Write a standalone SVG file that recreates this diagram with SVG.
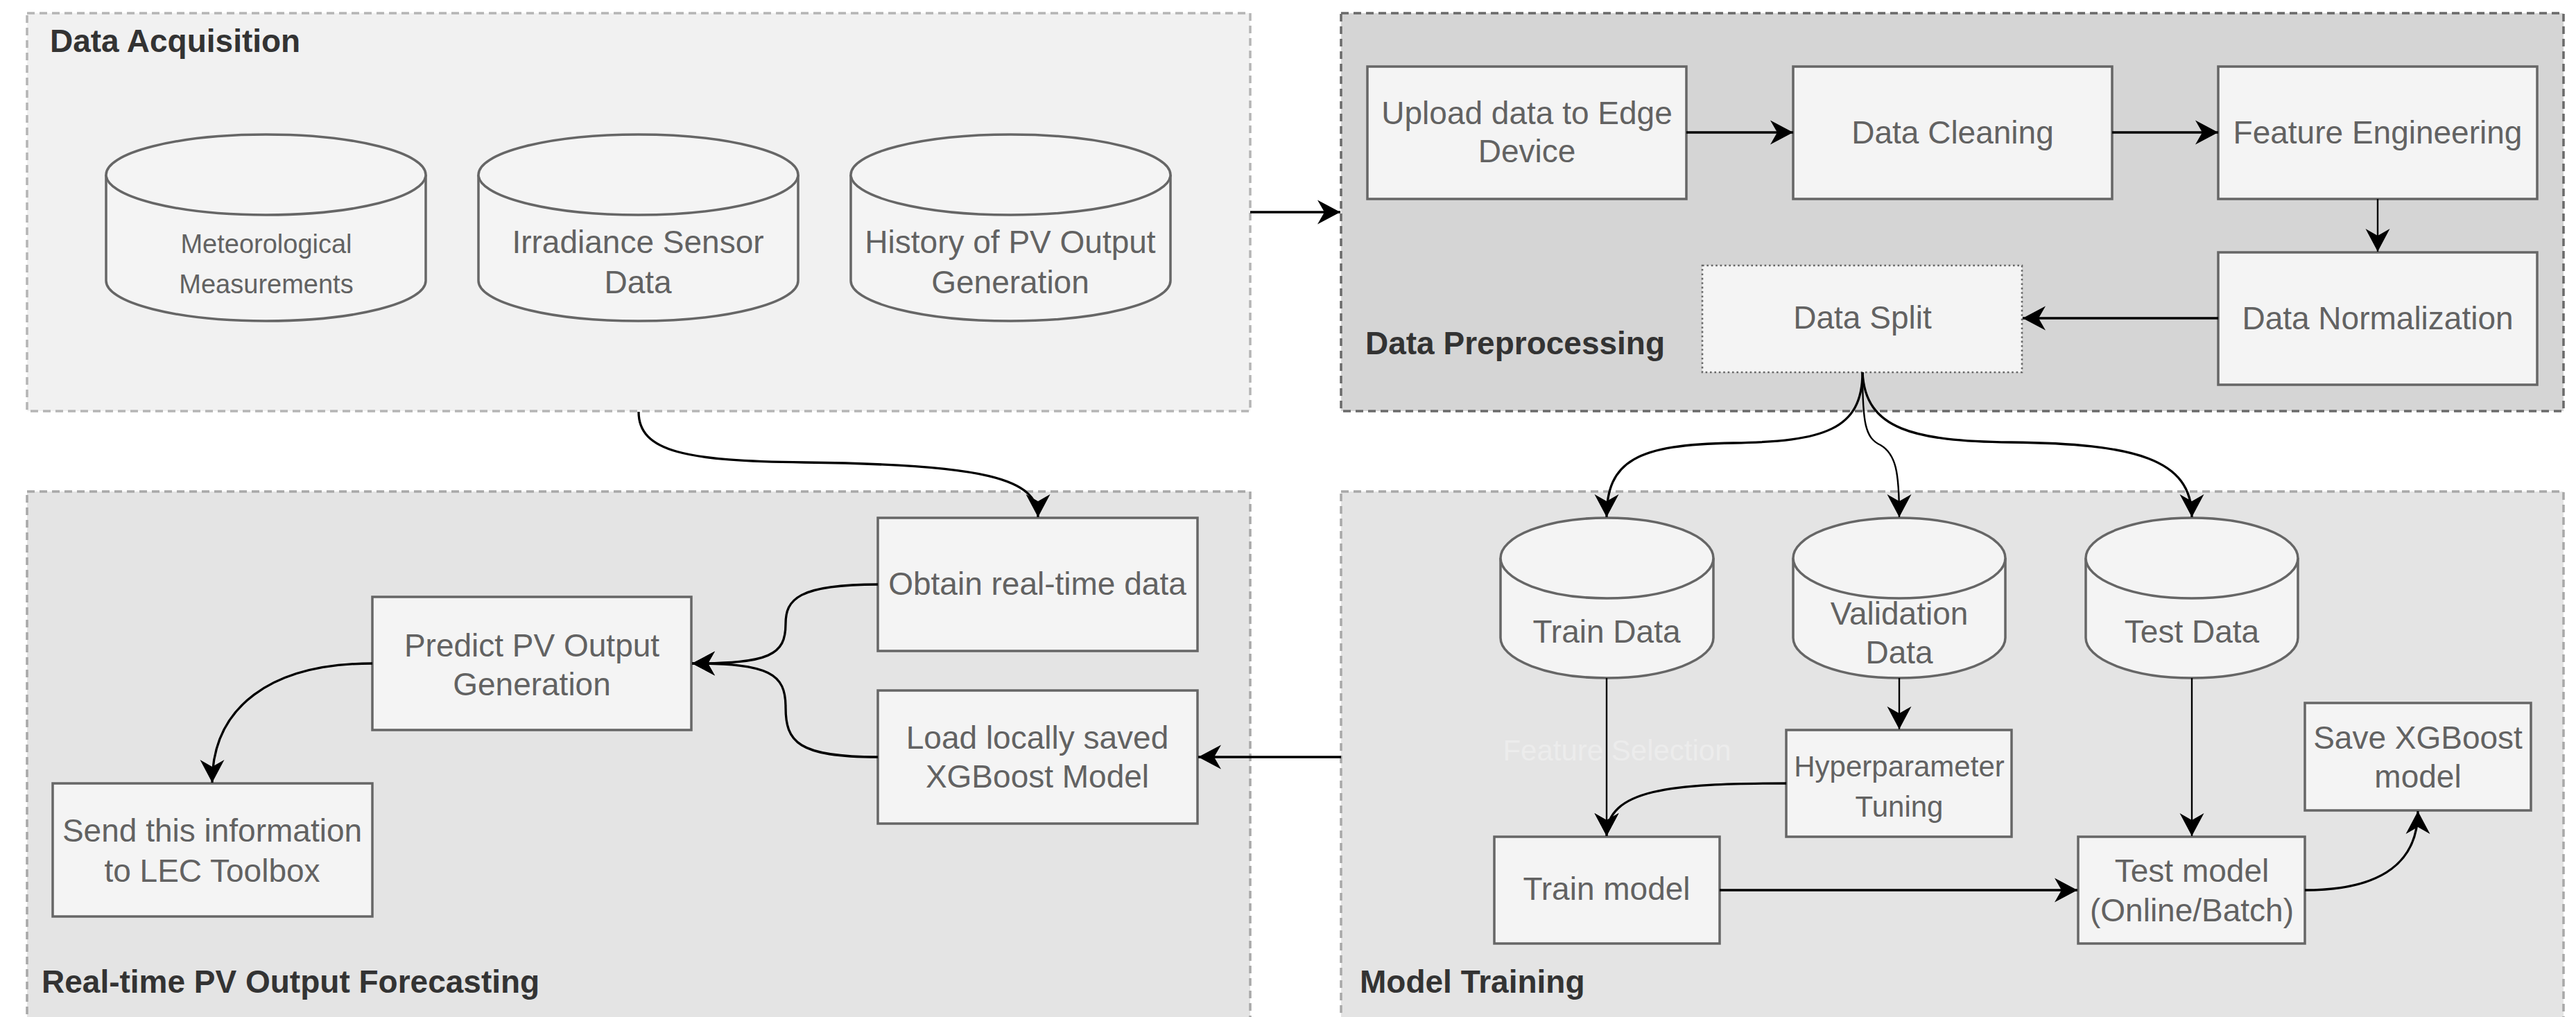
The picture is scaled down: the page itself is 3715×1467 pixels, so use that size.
<svg xmlns="http://www.w3.org/2000/svg" width="3715" height="1467" viewBox="0 0 3715 1467">
<style>
.ct{stroke-width:3.5;stroke-dasharray:11 7}
.box{fill:#f4f4f4;stroke:#666666;stroke-width:3.5}
.t{font-family:"Liberation Sans",Arial,Helvetica,sans-serif;font-size:46px;fill:#626262;text-anchor:middle}
.ts{font-size:38px}
.th{font-size:42px}
.ttl{font-family:"Liberation Sans",Arial,Helvetica,sans-serif;font-size:46px;font-weight:bold;fill:#333333}
.e{fill:none;stroke:#000000;stroke-width:3.3}
.en{fill:none;stroke:#000000;stroke-width:2.4}
</style>
<defs>
<marker id="ar" markerUnits="userSpaceOnUse" markerWidth="36" markerHeight="38" refX="33" refY="18" orient="auto" viewBox="0 0 36 38">
<path d="M0,0.5 L33,18 L0,35.5 L10,18 Z" fill="#000000"/>
</marker>
</defs>
<rect width="3715" height="1467" fill="#ffffff"/>
<g id="containers">
<g id="data-acquisition">
<rect class="ct" x="39" y="19" width="1764" height="574" fill="#f1f1f1" stroke="#b5b5b5"/>
<text class="ttl" x="72" y="75">Data Acquisition</text>
</g>
<g id="data-preprocessing">
<rect class="ct" x="1934" y="19" width="1763" height="574" fill="#d5d5d5" stroke="#6a6a6a"/>
<text class="ttl" x="1969" y="511">Data Preprocessing</text>
</g>
<g id="realtime-forecasting">
<rect class="ct" x="39" y="709" width="1764" height="800" fill="#e4e4e4" stroke="#a8a8a8"/>
<text class="ttl" x="60" y="1432">Real-time PV Output Forecasting</text>
</g>
<g id="model-training">
<rect class="ct" x="1934" y="709" width="1763" height="800" fill="#e4e4e4" stroke="#a8a8a8"/>
<text class="ttl" x="1961" y="1432">Model Training</text>
</g>
</g>
<g id="nodes">
<g id="meteorological">
<path class="box" d="M153,252 A230.5,58 0 0 1 614,252 L614,405 A230.5,58 0 0 1 153,405 Z"/>
<path class="box" fill="none" d="M153,252 A230.5,58 0 0 0 614,252"/>
<text class="t ts" x="384" y="365">Meteorological</text>
<text class="t ts" x="384" y="423">Measurements</text>
</g>
<g id="irradiance">
<path class="box" d="M690,252 A230.5,58 0 0 1 1151,252 L1151,405 A230.5,58 0 0 1 690,405 Z"/>
<path class="box" fill="none" d="M690,252 A230.5,58 0 0 0 1151,252"/>
<text class="t" x="920" y="365">Irradiance Sensor</text>
<text class="t" x="920" y="423">Data</text>
</g>
<g id="history">
<path class="box" d="M1227,252 A230.5,58 0 0 1 1688,252 L1688,405 A230.5,58 0 0 1 1227,405 Z"/>
<path class="box" fill="none" d="M1227,252 A230.5,58 0 0 0 1688,252"/>
<text class="t" x="1457" y="365">History of PV Output</text>
<text class="t" x="1457" y="423">Generation</text>
</g>
<g id="upload">
<rect class="box" x="1972" y="96" width="460" height="191"/>
<text class="t" x="2202" y="179">Upload data to Edge</text>
<text class="t" x="2202" y="234">Device</text>
</g>
<g id="cleaning">
<rect class="box" x="2586" y="96" width="460" height="191"/>
<text class="t" x="2816" y="207">Data Cleaning</text>
</g>
<g id="feature-engineering">
<rect class="box" x="3199" y="96" width="460" height="191"/>
<text class="t" x="3429" y="207">Feature Engineering</text>
</g>
<g id="normalization">
<rect class="box" x="3199" y="364" width="460" height="191"/>
<text class="t" x="3429" y="475">Data Normalization</text>
</g>
<g id="data-split">
<rect x="2455" y="383" width="461" height="154" fill="#f4f4f4" stroke="#666666" stroke-width="2.6" stroke-dasharray="2.6 3.8"/>
<text class="t" x="2686" y="474">Data Split</text>
</g>
<g id="obtain">
<rect class="box" x="1266" y="747" width="461" height="192"/>
<text class="t" x="1496" y="858">Obtain real-time data</text>
</g>
<g id="load-model">
<rect class="box" x="1266" y="996" width="461" height="192"/>
<text class="t" x="1496" y="1080">Load locally saved</text>
<text class="t" x="1496" y="1136">XGBoost Model</text>
</g>
<g id="predict">
<rect class="box" x="537" y="861" width="460" height="192"/>
<text class="t" x="767" y="947">Predict PV Output</text>
<text class="t" x="767" y="1003">Generation</text>
</g>
<g id="send">
<rect class="box" x="76" y="1130" width="461" height="192"/>
<text class="t" x="306" y="1214">Send this information</text>
<text class="t" x="306" y="1272">to LEC Toolbox</text>
</g>
<g id="train-data">
<path class="box" d="M2164,805 A153.5,58 0 0 1 2471,805 L2471,920 A153.5,58 0 0 1 2164,920 Z"/>
<path class="box" fill="none" d="M2164,805 A153.5,58 0 0 0 2471,805"/>
<text class="t" x="2317" y="927">Train Data</text>
</g>
<g id="validation-data">
<path class="box" d="M2586,805 A153,58 0 0 1 2892,805 L2892,920 A153,58 0 0 1 2586,920 Z"/>
<path class="box" fill="none" d="M2586,805 A153,58 0 0 0 2892,805"/>
<text class="t" x="2739" y="901">Validation</text>
<text class="t" x="2739" y="957">Data</text>
</g>
<g id="test-data">
<path class="box" d="M3008,805 A153,58 0 0 1 3314,805 L3314,920 A153,58 0 0 1 3008,920 Z"/>
<path class="box" fill="none" d="M3008,805 A153,58 0 0 0 3314,805"/>
<text class="t" x="3161" y="927">Test Data</text>
</g>
<g id="feature-selection">
<text x="2332" y="1097" font-family="Liberation Sans, Arial, sans-serif" font-size="42" fill="#ececec" text-anchor="middle">Feature Selection</text>
</g>
<g id="hyperparameter">
<rect class="box" x="2576" y="1053" width="325" height="154"/>
<text class="t th" x="2739" y="1120">Hyperparameter</text>
<text class="t th" x="2739" y="1178">Tuning</text>
</g>
<g id="train-model">
<rect class="box" x="2155" y="1207" width="325" height="154"/>
<text class="t" x="2317" y="1298">Train model</text>
</g>
<g id="test-model">
<rect class="box" x="2997" y="1207" width="327" height="154"/>
<text class="t" x="3161" y="1272">Test model</text>
<text class="t" x="3161" y="1329">(Online/Batch)</text>
</g>
<g id="save-model">
<rect class="box" x="3324" y="1014" width="326" height="155"/>
<text class="t" x="3487" y="1080">Save XGBoost</text>
<text class="t" x="3487" y="1136">model</text>
</g>
</g>
<g id="connectors">
<path class="e" marker-end="url(#ar)" d="M1803,306 L1933,306"/>
<path class="e" marker-end="url(#ar)" d="M2432,191 L2586,191"/>
<path class="e" marker-end="url(#ar)" d="M3046,191 L3199,191"/>
<path class="en" marker-end="url(#ar)" d="M3429,287 L3429,363"/>
<path class="e" marker-end="url(#ar)" d="M3199,459 L2917,459"/>
<path class="e" marker-end="url(#ar)" d="M2686,537 C2686,620 2630,637 2500,639 C2360,641 2317,665 2317,746"/>
<path class="en" marker-end="url(#ar)" d="M2686,537 C2686,610 2690,632 2712,642 C2734,655 2739,680 2739,746"/>
<path class="e" marker-end="url(#ar)" d="M2686,537 C2690,620 2760,636 2900,638 C3080,640 3161,662 3161,746"/>
<path class="en" marker-end="url(#ar)" d="M2317,978 L2317,1206"/>
<path class="en" marker-end="url(#ar)" d="M2739,978 L2739,1052"/>
<path class="e" marker-end="url(#ar)" d="M2576,1130 C2410,1130 2317,1138 2317,1206"/>
<path class="en" marker-end="url(#ar)" d="M3161,978 L3161,1206"/>
<path class="e" marker-end="url(#ar)" d="M2480,1284 L2996,1284"/>
<path class="e" marker-end="url(#ar)" d="M3324,1284 C3440,1284 3487,1240 3487,1170"/>
<path class="e" marker-end="url(#ar)" d="M1934,1092 L1728,1092"/>
<path class="e" marker-end="url(#ar)" d="M921,594 C921,652 990,665 1160,667 C1420,670 1497,690 1497,746"/>
<path class="e" marker-end="url(#ar)" d="M1266,843 C1150,843 1133,865 1133,900 C1133,945 1110,957 998,957"/>
<path class="e" marker-end="url(#ar)" d="M1266,1092 C1150,1092 1133,1070 1133,1020 C1133,972 1110,957 998,957"/>
<path class="e" marker-end="url(#ar)" d="M537,957 C390,957 306,1020 306,1129"/>
</g>
</svg>
